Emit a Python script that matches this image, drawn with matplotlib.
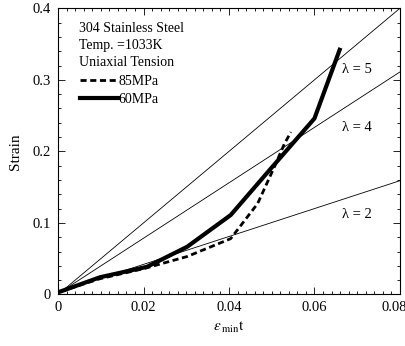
import matplotlib
matplotlib.use("Agg")
import matplotlib.pyplot as plt
from matplotlib.ticker import MultipleLocator
from matplotlib.transforms import ScaledTranslation

plt.rcParams.update({
    "font.family": "Liberation Serif",
    "mathtext.fontset": "stix",
    "font.size": 11,
})

# creep curves
x_60 = [0.0005, 0.0098, 0.0208, 0.0302, 0.0404, 0.0498, 0.0600, 0.0659]
y_60 = [0.004, 0.024, 0.0386, 0.0666, 0.111, 0.176, 0.246, 0.342]
x_85 = [0.0005, 0.0098, 0.0200, 0.0302, 0.0404, 0.0467, 0.0506, 0.0530, 0.0545]
y_85 = [0.004, 0.022, 0.036, 0.053, 0.078, 0.127, 0.178, 0.211, 0.227]

# reference lines for lambda (start point, end point at x=0.08)
lam_labels = ["λ = 5", "λ = 4", "λ = 2"]
lam_x = [0.001, 0.08]
lam_y = [[0.005, 0.400], [0.005, 0.311], [0.005, 0.159]]
lam_text_pos = [(0.0665, 0.310), (0.0665, 0.228), (0.0665, 0.107)]

xticks = [0, 0.02, 0.04, 0.06, 0.08]
xtick_labels = ["0", "0.02", "0.04", "0.06", "0.08"]
yticks = [0, 0.1, 0.2, 0.3, 0.4]
ytick_labels = ["0", "0.1", "0.2", "0.3", "0.4"]

fig = plt.figure(figsize=(4.06, 3.46), dpi=100)
ax = fig.add_axes([0.143, 0.149, 0.842, 0.827])

for ys in lam_y:
    ax.plot(lam_x, ys, color="black", lw=0.6)
for lab, (tx, ty) in zip(lam_labels, lam_text_pos):
    ax.text(tx, ty, lab, fontsize=10.5)

ax.plot(x_85, y_85, color="black", lw=2.0, ls=(0, (2.2, 1.3)), label="85MPa")
ax.plot(x_60, y_60, color="black", lw=3.0, label="60MPa")

ax.text(0.0048, 0.381, "304 Stainless Steel\nTemp. =1033K\nUniaxial Tension",
        fontsize=10, va="top", linespacing=1.4)
ax.legend(loc="upper left", bbox_to_anchor=(0.035, 0.80), frameon=False,
          fontsize=10, handlelength=2.8, handletextpad=0.0,
          labelspacing=0.35, borderpad=0.2)

ax.set_xlim(0, 0.08)
ax.set_ylim(0, 0.4)
ax.set_xticks(xticks, xtick_labels)
ax.set_yticks(yticks, ytick_labels)
ax.xaxis.set_minor_locator(MultipleLocator(0.002))
ax.yaxis.set_minor_locator(MultipleLocator(0.02))
ax.tick_params(which="both", direction="in", top=True, right=True, width=0.6)
ax.tick_params(which="major", length=5, labelsize=10.5, pad=5)
ax.tick_params(which="minor", length=2.5)
for s in ax.spines.values():
    s.set_linewidth(0.8)

# keep the last x tick label inside the figure
last = ax.get_xticklabels()[-1]
last.set_transform(last.get_transform() + ScaledTranslation(-6 / 100, 0, fig.dpi_scale_trans))

ax.set_xlabel(r"$\epsilon_{\,\mathrm{min}}\mathrm{t}$", fontsize=11, labelpad=4)
ax.set_ylabel("Strain", fontsize=11, labelpad=8)

fig.savefig("out.png", dpi=100)
